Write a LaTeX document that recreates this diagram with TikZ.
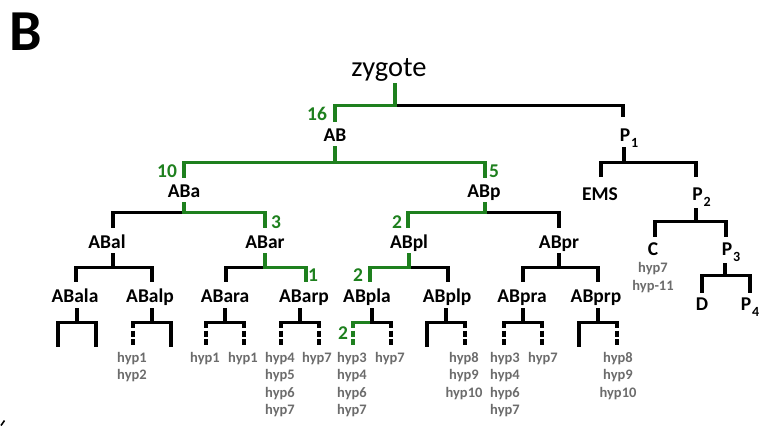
\documentclass[tikz,border=0pt]{standalone}
\usepackage{fontspec}
\setmainfont{Carlito}
\usetikzlibrary{calc}
\definecolor{lineagegreen}{RGB}{30,128,30}
\definecolor{hypgray}{RGB}{108,108,108}
% subscript index hanging to the right of a cell name
\newcommand\cellidx[1]{\rlap{\kern1pt\raisebox{-6pt}{\fontsize{14}{14}\selectfont #1}}}
% leaf bracket under a fourth-generation cell: node, stem shift, left/right leaf styles
\newcommand\leafpair[4]{%
  \draw[bk] ([xshift=#2,yshift=-6pt]#1.south) -- ([xshift=#2,yshift=-20pt]#1.south);
  \draw[bk,#3] ([xshift=#2,yshift=-20pt]#1.south) ++(-19,0) -- ++(0,-25);
  \draw[bk,#4] ([xshift=#2,yshift=-20pt]#1.south) ++(19,0) -- ++(0,-25);
  \draw[bk,line cap=rect] ([xshift=#2,yshift=-20pt]#1.south) ++(-19,0) -- ++(38,0);
}
\begin{document}
\begin{tikzpicture}[x=1pt,y=1pt,
  bk/.style={line width=3.2pt,draw=black},
  gn/.style={line width=3.2pt,draw=lineagegreen},
  dsh/.style={dash pattern=on 6pt off 2.5pt},
  cell/.style={font=\bfseries\fontsize{19.5}{20}\selectfont,inner sep=0pt,
    text height=12.5pt,text depth=0pt,anchor=base},
  count/.style={font=\bfseries\fontsize{19.5}{20}\selectfont,text=lineagegreen,inner sep=0pt},
  fate/.style={font=\bfseries\fontsize{14.5}{17.5}\selectfont,text=hypgray,inner sep=0pt,
    align=center,anchor=north}]

\path[use as bounding box] (0,0) rectangle (774,-426);

% panel letter
\node[font=\bfseries\fontsize{58}{58}\selectfont,inner sep=0pt,anchor=base] (panel) at (26,-50) {B};
\draw[line width=1.6pt] (1,-425.5) -- (4.5,-420.5);

% cells
\node[font=\fontsize{28.5}{30}\selectfont,inner sep=0pt,text depth=0pt,anchor=base] (zyg) at (389,-76) {zygote};
\node[cell] (ab) at (335,-141) {AB};
\node[cell] (p1) at (625,-141) {P\cellidx{1}};
\node[cell] (aba) at (184,-197) {ABa};
\node[cell] (abp) at (484,-197) {ABp};
\node[cell] (ems) at (600,-200) {EMS};
\node[cell] (p2) at (697.5,-200) {P\cellidx{2}};
\node[cell] (abal) at (107,-248) {ABal};
\node[cell] (abar) at (265,-248) {ABar};
\node[cell] (abpl) at (409,-248) {ABpl};
\node[cell] (abpr) at (559,-248) {ABpr};
\node[cell] (c) at (653,-255) {C};
\node[cell] (p3) at (727,-255) {P\cellidx{3}};
\node[cell] (abala) at (75,-302) {ABala};
\node[cell] (abalp) at (150,-302) {ABalp};
\node[cell] (abara) at (225,-302) {ABara};
\node[cell] (abarp) at (304,-302) {ABarp};
\node[cell] (abpla) at (367,-302) {ABpla};
\node[cell] (abplp) at (447,-302) {ABplp};
\node[cell] (abpra) at (522,-302) {ABpra};
\node[cell] (abprp) at (596,-302) {ABprp};
\node[cell] (d) at (702,-310) {D};
\node[cell] (p4) at (746,-310) {P\cellidx{4}};

% zygote division
\draw[bk] ([xshift=6pt,yshift=-29pt]zyg.south) -| ([xshift=-2pt,yshift=11.5pt]p1.north);
\draw[gn] ([xshift=6pt,yshift=-7pt]zyg.south) -- ([xshift=6pt,yshift=-29pt]zyg.south) -| ([yshift=6.5pt]ab.north);

% AB
\draw[gn] ([yshift=-5pt]ab.south) -- ([yshift=-21pt]ab.south);
\draw[gn] ([yshift=6.5pt]aba.north) |- ([yshift=-21pt]ab.south) -| ([xshift=1pt,yshift=6.5pt]abp.north);

% P1
\draw[bk] ([xshift=-1pt,yshift=-6pt]p1.south) -- ([xshift=-1pt,yshift=-21pt]p1.south);
\draw[bk] ([xshift=1pt,yshift=10.5pt]ems.north) |- ([xshift=-1pt,yshift=-21pt]p1.south) -| ([xshift=-1.5pt,yshift=10.5pt]p2.north);

% ABa
\draw[bk] ([xshift=6pt,yshift=7.5pt]abal.north) |- ([yshift=-15pt]aba.south);
\draw[gn] ([yshift=-5pt]aba.south) -- ([yshift=-15pt]aba.south) -| ([yshift=7.5pt]abar.north);

% ABp
\draw[bk] ([xshift=1pt,yshift=-15pt]abp.south) -| ([yshift=7.5pt]abpr.north);
\draw[gn] ([xshift=1pt,yshift=-5pt]abp.south) -- ([xshift=1pt,yshift=-15pt]abp.south) -| ([xshift=-1pt,yshift=7.5pt]abpl.north);

% P2 and P3
\draw[bk] ([xshift=-1.5pt,yshift=-8pt]p2.south) -- ([xshift=-1.5pt,yshift=-21pt]p2.south);
\draw[bk] ([xshift=2pt,yshift=5.5pt]c.north) |- ([xshift=-1.5pt,yshift=-21pt]p2.south) -| ([xshift=-1pt,yshift=5.5pt]p3.north);
\draw[bk] ([xshift=-2pt,yshift=-8pt]p3.south) -- ([xshift=-2pt,yshift=-20pt]p3.south);
\draw[bk] ([yshift=4.5pt]d.north) |- ([xshift=-2pt,yshift=-20pt]p3.south) -| ([xshift=4pt,yshift=4.5pt]p4.north);

% ABal
\draw[bk] ([xshift=6pt,yshift=-5pt]abal.south) -- ([xshift=6pt,yshift=-19pt]abal.south);
\draw[bk] ([xshift=1pt,yshift=7.5pt]abala.north) |- ([xshift=6pt,yshift=-19pt]abal.south) -| ([xshift=2pt,yshift=7.5pt]abalp.north);

% ABar
\draw[bk] ([xshift=1pt,yshift=7.5pt]abara.north) |- ([yshift=-19pt]abar.south);
\draw[gn] ([yshift=-5pt]abar.south) -- ([yshift=-19pt]abar.south) -| ([xshift=2pt,yshift=7.5pt]abarp.north);

% ABpl
\draw[bk] ([yshift=-19pt]abpl.south) -| ([xshift=1pt,yshift=7.5pt]abplp.north);
\draw[gn] ([yshift=-5pt]abpl.south) -- ([yshift=-19pt]abpl.south) -| ([xshift=3pt,yshift=7.5pt]abpla.north);

% ABpr
\draw[bk] ([yshift=-5pt]abpr.south) -- ([yshift=-19pt]abpr.south);
\draw[bk] ([xshift=1pt,yshift=7.5pt]abpra.north) |- ([yshift=-19pt]abpr.south) -| ([xshift=2pt,yshift=7.5pt]abprp.north);

% fourth-generation brackets
\leafpair{abala}{2pt}{}{}
\leafpair{abalp}{2pt}{dsh}{}
\leafpair{abara}{0pt}{dsh}{dsh}
\leafpair{abarp}{-4pt}{dsh}{dsh}
\leafpair{abplp}{-1pt}{}{dsh}
\leafpair{abpra}{1pt}{dsh}{dsh}
\leafpair{abprp}{2pt}{}{dsh}
% ABpla, with its green left daughter
\draw[bk] ([xshift=5pt,yshift=-6pt]abpla.south) -- ([xshift=5pt,yshift=-20pt]abpla.south);
\draw[gn,dsh] ([xshift=5pt,yshift=-20pt]abpla.south) ++(-19,0) -- ++(0,-25);
\draw[bk,dsh] ([xshift=5pt,yshift=-20pt]abpla.south) ++(19,0) -- ++(0,-25);
\draw[gn,line cap=rect] ([xshift=5pt,yshift=-20pt]abpla.south) ++(-19,0) -- ++(19,0);
\draw[bk,line cap=rect] ([xshift=5pt,yshift=-20pt]abpla.south) -- ++(19,0);

% lineage counts
\node[count] (n16) at (317,-114) {16};
\node[count] (n10) at (167,-171) {10};
\node[count] (n5) at (494,-171) {5};
\node[count] (n3) at (276,-222) {3};
\node[count] (n2a) at (397,-222) {2};
\node[count] (n1) at (313,-275) {1};
\node[count] (n2b) at (358,-275) {2};
\node[count] (n2c) at (343,-333) {2};

% fates
\node[fate] (f1) at (132,-352) {hyp1\\hyp2};
\node[fate] (f2) at (205,-352) {hyp1};
\node[fate] (f3) at (243,-352) {hyp1};
\node[fate] (f4) at (280,-352) {hyp4\\hyp5\\hyp6\\hyp7};
\node[fate] (f5) at (317,-352) {hyp7};
\node[fate] (f6) at (352,-352) {hyp3\\hyp4\\hyp6\\hyp7};
\node[fate] (f7) at (390,-352) {hyp7};
\node[fate] (f8) at (464,-352) {hyp8\\hyp9\\hyp10};
\node[fate] (f9) at (505,-352) {hyp3\\hyp4\\hyp6\\hyp7};
\node[fate] (f10) at (543,-352) {hyp7};
\node[fate] (f11) at (618,-352) {hyp8\\hyp9\\hyp10};
\node[fate,font=\bfseries\fontsize{14.5}{18}\selectfont] (fc) at (653,-262) {hyp7\\hyp-11};
\end{tikzpicture}
\end{document}
